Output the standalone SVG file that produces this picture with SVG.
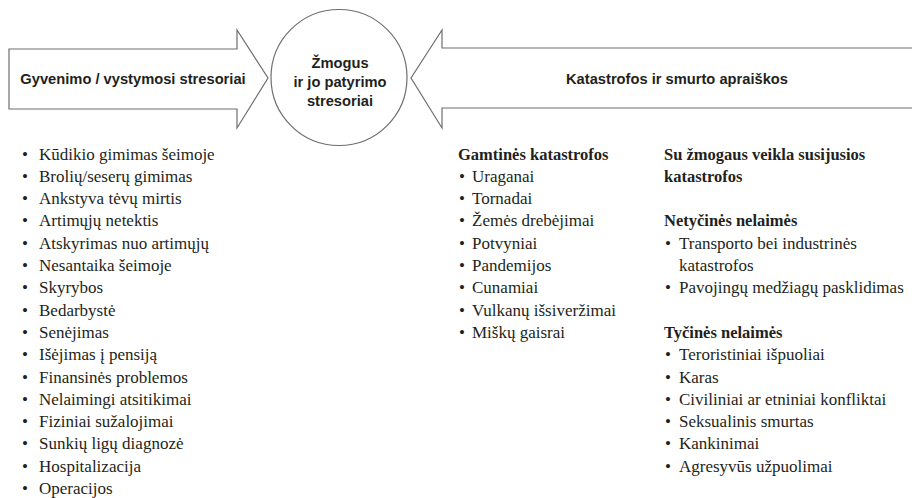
<svg xmlns="http://www.w3.org/2000/svg" width="912" height="498" viewBox="0 0 912 498">
  <style>
    .shape { fill: #ffffff; stroke: #6d6e71; stroke-width: 1.2; }
    .head { font-family: "Liberation Sans", Arial, sans-serif; font-weight: 700; font-size: 14.7px; fill: #231f20; text-anchor: middle; }
    .item { font-family: "Liberation Serif", "Times New Roman", serif; font-size: 17px; fill: #231f20; }
    .title { font-family: "Liberation Serif", "Times New Roman", serif; font-size: 16.5px; font-weight: 700; fill: #231f20; }
  </style>

  <rect width="912" height="498" fill="#ffffff"/>

  <!-- block arrows pointing at the central circle -->
  <g id="connectors">
    <g id="arrow-life">
      <path class="shape" d="M9,49 H237 V30 L268,78 L237,128 V109 H9 Z"/>
      <text class="head" x="133" y="84">Gyvenimo / vystymosi stresoriai</text>
    </g>
    <g id="arrow-disaster">
      <path class="shape" d="M913,48 H442 V30 L411,78 L442,128 V108 H913"/>
      <text class="head" x="677" y="84">Katastrofos ir smurto apraiškos</text>
    </g>
  </g>

  <!-- central node -->
  <g id="hub">
    <circle class="shape" cx="339" cy="77.5" r="68"/>
    <text class="head" x="340" y="68">Žmogus</text>
    <text class="head" x="340" y="87">ir jo patyrimo</text>
    <text class="head" x="340" y="106">stresoriai</text>
  </g>

  <!-- life / development stressors -->
  <g id="list-life" class="item">
    <text y="159.5"><tspan x="22">•</tspan><tspan x="39">Kūdikio gimimas šeimoje</tspan></text>
    <text y="181.8"><tspan x="22">•</tspan><tspan x="39">Brolių/seserų gimimas</tspan></text>
    <text y="204.1"><tspan x="22">•</tspan><tspan x="39">Ankstyva tėvų mirtis</tspan></text>
    <text y="226.4"><tspan x="22">•</tspan><tspan x="39">Artimųjų netektis</tspan></text>
    <text y="248.7"><tspan x="22">•</tspan><tspan x="39">Atskyrimas nuo artimųjų</tspan></text>
    <text y="271.0"><tspan x="22">•</tspan><tspan x="39">Nesantaika šeimoje</tspan></text>
    <text y="293.3"><tspan x="22">•</tspan><tspan x="39">Skyrybos</tspan></text>
    <text y="315.6"><tspan x="22">•</tspan><tspan x="39">Bedarbystė</tspan></text>
    <text y="337.9"><tspan x="22">•</tspan><tspan x="39">Senėjimas</tspan></text>
    <text y="360.2"><tspan x="22">•</tspan><tspan x="39">Išėjimas į pensiją</tspan></text>
    <text y="382.5"><tspan x="22">•</tspan><tspan x="39">Finansinės problemos</tspan></text>
    <text y="404.8"><tspan x="22">•</tspan><tspan x="39">Nelaimingi atsitikimai</tspan></text>
    <text y="427.1"><tspan x="22">•</tspan><tspan x="39">Fiziniai sužalojimai</tspan></text>
    <text y="449.4"><tspan x="22">•</tspan><tspan x="39">Sunkių ligų diagnozė</tspan></text>
    <text y="471.7"><tspan x="22">•</tspan><tspan x="39">Hospitalizacija</tspan></text>
    <text y="494.0"><tspan x="22">•</tspan><tspan x="39">Operacijos</tspan></text>
  </g>

  <!-- natural disasters -->
  <g id="list-natural" class="item">
    <text class="title" x="458" y="159.5">Gamtinės katastrofos</text>
    <text y="181.8"><tspan x="459">•</tspan><tspan x="472">Uraganai</tspan></text>
    <text y="204.1"><tspan x="459">•</tspan><tspan x="472">Tornadai</tspan></text>
    <text y="226.4"><tspan x="459">•</tspan><tspan x="472">Žemės drebėjimai</tspan></text>
    <text y="248.7"><tspan x="459">•</tspan><tspan x="472">Potvyniai</tspan></text>
    <text y="271.0"><tspan x="459">•</tspan><tspan x="472">Pandemijos</tspan></text>
    <text y="293.3"><tspan x="459">•</tspan><tspan x="472">Cunamiai</tspan></text>
    <text y="315.6"><tspan x="459">•</tspan><tspan x="472">Vulkanų išsiveržimai</tspan></text>
    <text y="337.9"><tspan x="459">•</tspan><tspan x="472">Miškų gaisrai</tspan></text>
  </g>

  <!-- human-caused disasters -->
  <g id="list-human" class="item">
    <text class="title" x="664" y="159.5">Su žmogaus veikla susijusios</text>
    <text class="title" x="664" y="181.8">katastrofos</text>

    <text class="title" x="664" y="226.4">Netyčinės nelaimės</text>
    <text y="248.7"><tspan x="665">•</tspan><tspan x="679">Transporto bei industrinės</tspan></text>
    <text x="679" y="271.0">katastrofos</text>
    <text y="293.3"><tspan x="665">•</tspan><tspan x="679">Pavojingų medžiagų pasklidimas</tspan></text>

    <text class="title" x="664" y="337.9">Tyčinės nelaimės</text>
    <text y="360.2"><tspan x="665">•</tspan><tspan x="679">Teroristiniai išpuoliai</tspan></text>
    <text y="382.5"><tspan x="665">•</tspan><tspan x="679">Karas</tspan></text>
    <text y="404.8"><tspan x="665">•</tspan><tspan x="679">Civiliniai ar etniniai konfliktai</tspan></text>
    <text y="427.1"><tspan x="665">•</tspan><tspan x="679">Seksualinis smurtas</tspan></text>
    <text y="449.4"><tspan x="665">•</tspan><tspan x="679">Kankinimai</tspan></text>
    <text y="471.7"><tspan x="665">•</tspan><tspan x="679">Agresyvūs užpuolimai</tspan></text>
  </g>
</svg>
